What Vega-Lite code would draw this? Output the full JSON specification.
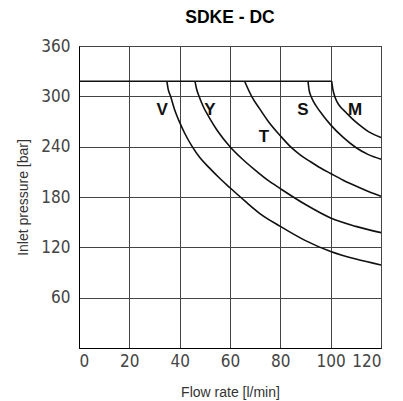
{
  "$schema": "https://vega.github.io/schema/vega-lite/v6.json",
  "autosize": {"type": "none"},
  "width": 302,
  "height": 302,
  "padding": {"left": 79, "top": 46, "right": 22, "bottom": 53},
  "background": "white",
  "title": {"text": "SDKE - DC", "font": "Liberation Sans", "fontSize": 17.5, "fontWeight": "bold", "color": "#000", "offset": 11},
  "config": {
    "view": {"stroke": "#000", "strokeWidth": 1},
    "axis": {
      "gridColor": "#444", "gridOpacity": 1, "gridWidth": 1,
      "domainColor": "#000", "domainWidth": 1,
      "ticks": false,
      "labelFont": "DejaVu Sans Condensed, Roboto Condensed, Roboto, sans-serif", "labelFontSize": 17, "labelColor": "#444", "labelFontWeight": 300,
      "titleFont": "Liberation Sans", "titleFontSize": 14, "titleFontWeight": "normal", "titleColor": "#333"
    }
  },
  "datasets": {
    "curves": [
      {"s": "H", "q": 0, "p": 318}, {"s": "H", "q": 100.4, "p": 318},
      {"s": "V", "q": 34.9, "p": 318}, {"s": "V", "q": 35.4, "p": 309}, {"s": "V", "q": 36.4, "p": 300}, {"s": "V", "q": 38, "p": 284}, {"s": "V", "q": 39.7, "p": 271}, {"s": "V", "q": 42, "p": 256}, {"s": "V", "q": 45, "p": 240}, {"s": "V", "q": 48, "p": 227}, {"s": "V", "q": 51.7, "p": 215}, {"s": "V", "q": 56, "p": 202}, {"s": "V", "q": 60, "p": 191}, {"s": "V", "q": 66, "p": 175}, {"s": "V", "q": 72, "p": 160}, {"s": "V", "q": 80, "p": 145}, {"s": "V", "q": 90, "p": 128}, {"s": "V", "q": 100, "p": 115}, {"s": "V", "q": 110, "p": 106}, {"s": "V", "q": 120, "p": 99},
      {"s": "Y", "q": 46.1, "p": 318}, {"s": "Y", "q": 46.7, "p": 309}, {"s": "Y", "q": 47.7, "p": 300}, {"s": "Y", "q": 49.5, "p": 287}, {"s": "Y", "q": 51.7, "p": 275}, {"s": "Y", "q": 55, "p": 259}, {"s": "Y", "q": 60, "p": 240}, {"s": "Y", "q": 65, "p": 225}, {"s": "Y", "q": 70, "p": 212}, {"s": "Y", "q": 75, "p": 200}, {"s": "Y", "q": 80, "p": 190}, {"s": "Y", "q": 90, "p": 171}, {"s": "Y", "q": 100, "p": 155}, {"s": "Y", "q": 110, "p": 145}, {"s": "Y", "q": 120, "p": 137.5},
      {"s": "T", "q": 65.8, "p": 318}, {"s": "T", "q": 68.6, "p": 300}, {"s": "T", "q": 71.6, "p": 286}, {"s": "T", "q": 75, "p": 271}, {"s": "T", "q": 80, "p": 253}, {"s": "T", "q": 84, "p": 240}, {"s": "T", "q": 88, "p": 230}, {"s": "T", "q": 92, "p": 222}, {"s": "T", "q": 96, "p": 214.5}, {"s": "T", "q": 100, "p": 208}, {"s": "T", "q": 105, "p": 200}, {"s": "T", "q": 110, "p": 193}, {"s": "T", "q": 115, "p": 186.5}, {"s": "T", "q": 120, "p": 181},
      {"s": "S", "q": 91, "p": 318}, {"s": "S", "q": 91.4, "p": 308}, {"s": "S", "q": 92.2, "p": 300}, {"s": "S", "q": 93.3, "p": 293}, {"s": "S", "q": 94.8, "p": 286}, {"s": "S", "q": 96.5, "p": 279}, {"s": "S", "q": 100, "p": 266}, {"s": "S", "q": 105, "p": 251}, {"s": "S", "q": 110, "p": 239}, {"s": "S", "q": 115, "p": 230.5}, {"s": "S", "q": 120, "p": 225},
      {"s": "M", "q": 100.4, "p": 318}, {"s": "M", "q": 100.9, "p": 308}, {"s": "M", "q": 101.6, "p": 300}, {"s": "M", "q": 102.6, "p": 293}, {"s": "M", "q": 104, "p": 287}, {"s": "M", "q": 106, "p": 281}, {"s": "M", "q": 108.5, "p": 273.5}, {"s": "M", "q": 111.4, "p": 266}, {"s": "M", "q": 115, "p": 258}, {"s": "M", "q": 120, "p": 251}
    ],
    "labels": [
      {"t": "V", "q": 33, "p": 284},
      {"t": "Y", "q": 52, "p": 284},
      {"t": "T", "q": 73.5, "p": 252},
      {"t": "S", "q": 89, "p": 284},
      {"t": "M", "q": 109.7, "p": 284}
    ]
  },
  "encoding": {
    "x": {"field": "q", "type": "quantitative", "scale": {"domain": [0, 120], "nice": false}, "axis": {"values": [0, 20, 40, 60, 80, 100, 120], "title": "Flow rate [l/min]", "labelPadding": 5, "titlePadding": 16}},
    "y": {"field": "p", "type": "quantitative", "scale": {"domain": [0, 360], "nice": false}, "axis": {"values": [60, 120, 180, 240, 300, 360], "title": "Inlet pressure [bar]", "labelPadding": 9, "titlePadding": 10}}
  },
  "layer": [
    {
      "data": {"name": "curves"},
      "mark": {"type": "line", "color": "#111", "strokeWidth": 1.6, "interpolate": "monotone"},
      "encoding": {"detail": {"field": "s"}}
    },
    {
      "data": {"name": "labels"},
      "mark": {"type": "text", "font": "Liberation Sans", "fontSize": 17, "fontWeight": "bold", "color": "#111"},
      "encoding": {"text": {"field": "t"}}
    }
  ]
}
